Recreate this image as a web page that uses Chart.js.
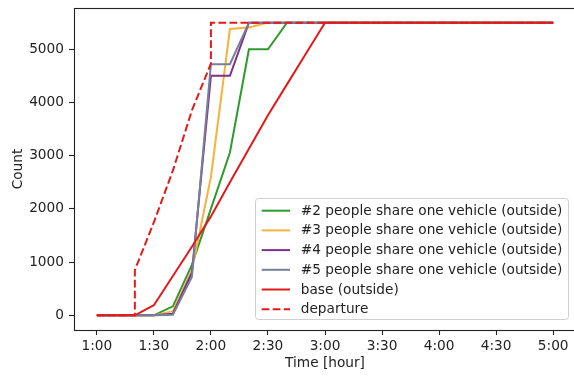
<!DOCTYPE html>
<html>
<head>
<meta charset="utf-8">
<script src="https://cdn.jsdelivr.net/npm/chart.js@4/dist/chart.umd.min.js"></script>
<style>
  html, body { margin: 0; padding: 0; background: #ffffff; overflow: hidden; }
  #wrap { width: 574px; height: 377px; overflow: hidden; position: relative; }
  canvas { display: block; }
</style>
</head>
<body>
<div id="wrap"><canvas id="c" width="600" height="377"></canvas></div>
<script>
// ---- data ----
const tickLabels = ['1:00', '1:30', '2:00', '2:30', '3:00', '3:30', '4:00', '4:30', '5:00'];
const yTicks = [0, 1000, 2000, 3000, 4000, 5000];

const timeGrid = ['1:00', '1:10', '1:20', '1:30', '1:40', '1:50', '2:00', '2:10', '2:20', '2:30', '2:40', '2:50', '3:00', '5:00'];
const share2 = [0, 0, 0, 0, 170, 950, 2000, 3060, 5000, 5000, 5500, 5500, 5500, 5500];
const share3 = [0, 0, 0, 0, 80, 850, 2600, 5380, 5410, 5500, 5500, 5500, 5500, 5500];
const share4 = [0, 0, 0, 0, 30, 800, 4500, 4500, 5500, 5500, 5500, 5500, 5500, 5500];
const share5 = [0, 0, 0, 0, 10, 720, 4720, 4720, 5500, 5500, 5500, 5500, 5500, 5500];
const baseOutside = [0, 0, 0, 190, 740, 1290, 1860, 2500, 3130, 3760, 4340, 4920, 5500, 5500];

const departureTimes = ['1:00', '1:20', '1:20', '1:30', '1:40', '1:50', '2:00', '2:00', '5:00'];
const departure = [0, 0, 850, 1750, 2720, 3850, 4730, 5500, 5500];

const seriesNames = [
  '#2 people share one vehicle (outside)',
  '#3 people share one vehicle (outside)',
  '#4 people share one vehicle (outside)',
  '#5 people share one vehicle (outside)',
  'base (outside)',
  'departure'
];

// ---- helpers ----
function toMin(s) { const p = s.split(':'); return parseInt(p[0], 10) * 60 + parseInt(p[1], 10); }
function fmt(m) { const h = Math.floor(m / 60); const mm = Math.round(m - h * 60); return h + ':' + String(mm).padStart(2, '0'); }
function pts(times, vals) { return times.map((t, i) => ({ x: toMin(t), y: vals[i] })); }

const FONT = "'DejaVu Sans', 'Liberation Sans', sans-serif";
const FS = 13.7;
const colors = ['#2e9a2e', '#f4b33a', '#7d2f8f', '#76809a', '#e31a1c', '#e31a1c'];
const dashes = [[], [], [], [], [], [7.7, 3.3]];

const seriesData = [
  pts(timeGrid, share2),
  pts(timeGrid, share3),
  pts(timeGrid, share4),
  pts(timeGrid, share5),
  pts(timeGrid, baseOutside),
  pts(departureTimes, departure)
];

const datasets = seriesData.map((d, i) => ({
  label: seriesNames[i],
  data: d,
  borderColor: colors[i],
  backgroundColor: colors[i],
  borderWidth: 2,
  borderDash: dashes[i],
  pointRadius: 0,
  tension: 0,
  fill: false,
  order: seriesData.length - 1 - i
}));

const xMinData = toMin(tickLabels[0]), xMaxData = toMin(tickLabels[tickLabels.length - 1]);
const xPad = (xMaxData - xMinData) * 0.05;
const yPad = 5500 * 0.05;

const framePlugin = {
  id: 'frame',
  afterDatasetsDraw(chart) {
    const a = chart.chartArea, ctx = chart.ctx;
    ctx.save();
    ctx.strokeStyle = '#222';
    ctx.lineWidth = 1.1;
    ctx.strokeRect(a.left + 0.5, a.top + 0.5, a.right - a.left, a.bottom - a.top);
    ctx.restore();
  }
};

const legendPlugin = {
  id: 'boxLegend',
  afterDraw(chart) {
    const ctx = chart.ctx;
    const bx = 255.5, by = 198.5, bw = 313, bh = 121, r = 3;
    ctx.save();
    ctx.beginPath();
    ctx.moveTo(bx + r, by);
    ctx.lineTo(bx + bw - r, by);
    ctx.arcTo(bx + bw, by, bx + bw, by + r, r);
    ctx.lineTo(bx + bw, by + bh - r);
    ctx.arcTo(bx + bw, by + bh, bx + bw - r, by + bh, r);
    ctx.lineTo(bx + r, by + bh);
    ctx.arcTo(bx, by + bh, bx, by + bh - r, r);
    ctx.lineTo(bx, by + r);
    ctx.arcTo(bx, by, bx + r, by, r);
    ctx.closePath();
    ctx.fillStyle = 'rgba(255,255,255,0.85)';
    ctx.fill();
    ctx.strokeStyle = '#cfcfcf';
    ctx.lineWidth = 1;
    ctx.stroke();
    ctx.font = FS + 'px ' + FONT;
    ctx.textBaseline = 'middle';
    ctx.textAlign = 'left';
    seriesNames.forEach((name, i) => {
      const y = 210.7 + i * 19.7;
      ctx.beginPath();
      ctx.setLineDash(dashes[i]);
      ctx.strokeStyle = colors[i];
      ctx.lineWidth = 2;
      ctx.moveTo(261.7, y);
      ctx.lineTo(290, y);
      ctx.stroke();
      ctx.setLineDash([]);
      ctx.fillStyle = '#222';
      ctx.fillText(name, 300.7, y + 0.5);
    });
    ctx.restore();
  }
};

function noPad(scale) {
  scale.paddingTop = 0; scale.paddingBottom = 0; scale.paddingLeft = 0; scale.paddingRight = 0;
}

new Chart(document.getElementById('c'), {
  type: 'line',
  data: { datasets },
  options: {
    responsive: false,
    animation: false,
    layout: { autoPadding: false, padding: { left: 0, top: 8, right: 24, bottom: 0 } },
    plugins: { legend: { display: false }, tooltip: { enabled: false } },
    scales: {
      x: {
        type: 'linear',
        min: xMinData - xPad,
        max: xMaxData + xPad,
        bounds: 'data',
        afterBuildTicks(scale) { scale.ticks = tickLabels.map(t => ({ value: toMin(t) })); },
        afterFit(scale) { scale.height = 47; noPad(scale); },
        grid: { display: true, drawOnChartArea: false, drawTicks: true, tickLength: 5, tickColor: '#222', tickWidth: 1.1 },
        border: { display: false },
        ticks: { color: '#222', font: { family: FONT, size: FS }, padding: 3, maxRotation: 0, autoSkip: false,
                 callback: (v) => fmt(v) },
        title: { display: true, text: 'Time [hour]', color: '#222', font: { family: FONT, size: FS }, padding: { top: 0, bottom: 5 } }
      },
      y: {
        type: 'linear',
        min: -yPad,
        max: 5500 + yPad,
        bounds: 'data',
        afterBuildTicks(scale) { scale.ticks = yTicks.map(v => ({ value: v })); },
        afterFit(scale) { scale.width = 74; noPad(scale); },
        grid: { display: true, drawOnChartArea: false, drawTicks: true, tickLength: 5, tickColor: '#222', tickWidth: 1.1 },
        border: { display: false },
        ticks: { color: '#222', font: { family: FONT, size: FS }, padding: 5, autoSkip: false,
                 callback: (v) => String(v) },
        title: { display: true, text: 'Count', color: '#222', font: { family: FONT, size: FS }, padding: { top: 10, bottom: 0 } }
      }
    }
  },
  plugins: [framePlugin, legendPlugin]
});
</script>
</body>
</html>
